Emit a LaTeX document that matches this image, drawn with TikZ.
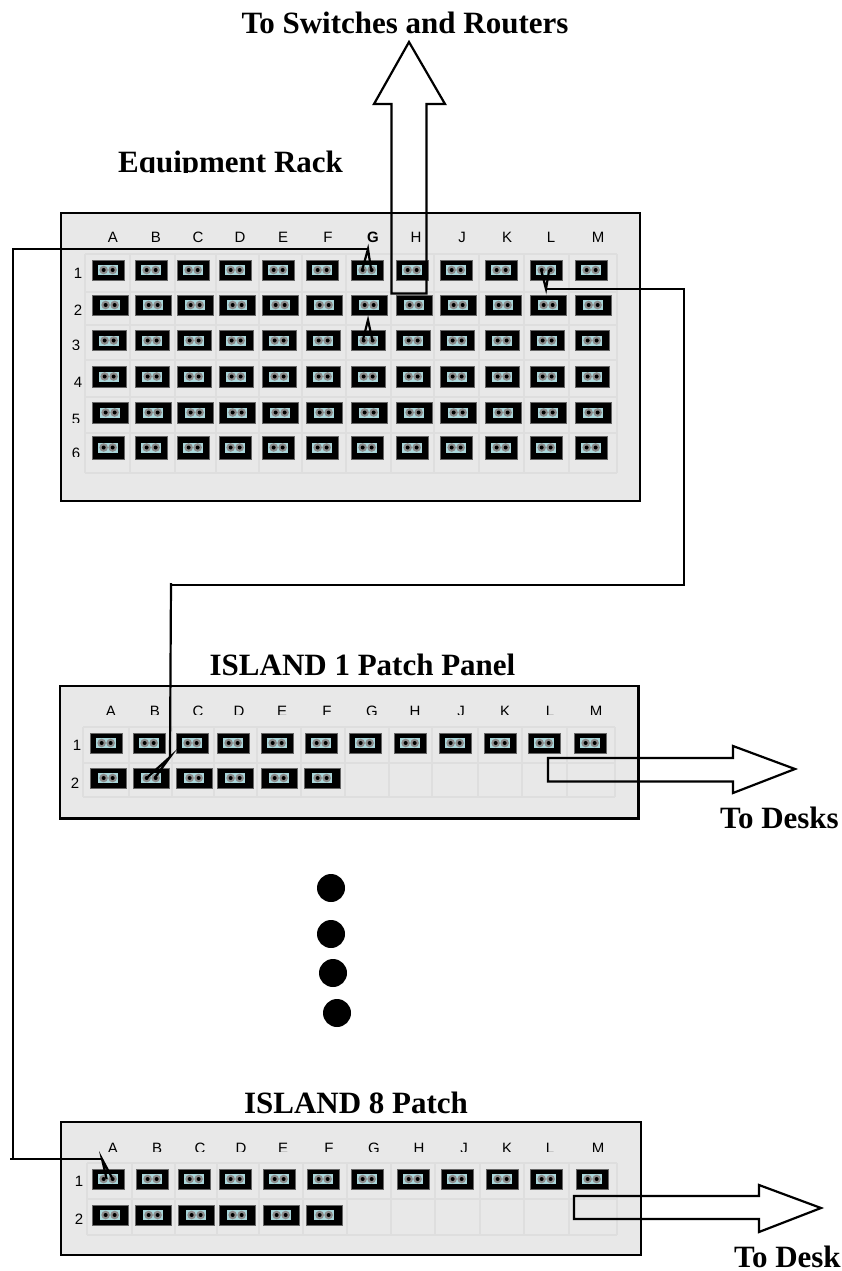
\documentclass[tikz,border=0pt]{standalone}
\usepackage{fontspec}
\setmainfont{Liberation Serif}
\setsansfont{Liberation Sans}
\begin{document}
\begin{tikzpicture}[
    x=1pt, y=-1pt,
    panel/.style={draw=black, line width=2.2pt, fill=panelgray},
    cell/.style={draw=cellgray, line width=1.5pt},
    jack/.style={rectangle, fill=black, draw=black!60, line width=0.3pt, anchor=west, inner sep=0pt,
        minimum height=20pt, minimum width=#1,
        path picture={
            \fill[portblue] ([xshift=-10pt,yshift=-5pt]path picture bounding box.center) rectangle ([xshift=10pt,yshift=5pt]path picture bounding box.center);
            \foreach \hole in {-4.5,4.5} {
                \fill[black!45] ([xshift=\hole pt]path picture bounding box.center) circle (4.3pt);
                \fill[black] ([xshift=\hole pt]path picture bounding box.center) circle (2pt);
            }
        }},
    jack/.default=32pt,
    collabel/.style={font=\sffamily\fontsize{15}{15}\selectfont, inner sep=0pt},
    heading/.style={font=\bfseries\fontsize{31}{31}\selectfont, inner sep=0pt, anchor=base},
    cable/.style={draw=black, line width=2.2pt, line join=miter},
    bigarrow/.style={draw=black, line width=2.2pt, line join=miter},
    bullet/.style={circle, fill=black, minimum size=28pt, inner sep=0pt}
]
    \definecolor{panelgray}{HTML}{E8E8E8}
    \definecolor{cellgray}{HTML}{DEDEDE}
    \definecolor{portblue}{HTML}{A9D6DA}
    \useasboundingbox (0,0) rectangle (842,1271);
    \fill[white] (0,0) rectangle (842,1271);

    % titles
    \node[heading] (titleswitch) at (405,33.5) {To Switches and Routers};
    \begin{scope}
        \clip (100,140) rectangle (360,172.5);
        \node[heading] (titlerack) at (230.5,172) {Equipment Rack};
    \end{scope}
    \node[heading] (titleone) at (362.5,675.5) {ISLAND 1 Patch Panel};
    \node[heading] (titleeight) at (356,1113) {ISLAND 8 Patch};
    \node[heading, anchor=base west] (desksone) at (720,828) {To Desks};
    \node[heading, anchor=base west] (deskseight) at (734,1267) {To Desk};

    % panels
    \draw[panel] (61,213) rectangle (640,501);
    \draw[panel] (60,686) rectangle (638.5,818.5);
    \draw[panel] (61,1122) rectangle (641,1255);

    % rack grid
    \foreach \xpos in {85,130,175,216,259,302,346,391,434,479,524,569,617}
        \draw[cell] (\xpos,254) -- (\xpos,473);
    \foreach \ypos in {254,292,325,360,397,433,473}
        \draw[cell] (85,\ypos) -- (617,\ypos);

    % island grids
    \foreach \xpos in {83,129,172,214,257,301,345,389,432,478,522,567,615}
        \draw[cell] (\xpos,727) -- (\xpos,797);
    \foreach \ypos in {727,763,797}
        \draw[cell] (83,\ypos) -- (615,\ypos);
    \foreach \xpos in {87,132,175,217,259,303,347,391,435,480,524,569,617}
        \draw[cell] (\xpos,1163) -- (\xpos,1235);
    \foreach \ypos in {1163,1199,1235}
        \draw[cell] (87,\ypos) -- (617,\ypos);

    % rack labels and jacks
    \foreach \col/\xpos in {A/113,B/156,C/198,D/240,E/283,F/328,H/416,J/462,K/507,L/551,M/598}
        \node[collabel] (racklabel\col) at (\xpos,237) {\col};
    \node[collabel, font=\sffamily\bfseries\fontsize{15}{15}\selectfont] (racklabelG) at (373,237) {G};
    \foreach \row/\ypos in {1/273,2/310,4/382} 
        \node[collabel] (racknum\row) at (78,\ypos) {\row};
    \begin{scope}
        \clip (60,335) rectangle (90,349) (60,405) rectangle (84,422) (60,440) rectangle (84,456);
        \foreach \row/\ypos in {3/345,5/419,6/453}
            \node[collabel] (racknum\row) at (76,\ypos) {\row};
    \end{scope}
    \foreach \col/\xpos in {A/92,B/135,C/177,D/219,E/262,F/306,G/351,H/396,J/440,K/485,L/530,M/575}
        \foreach \row/\ypos/\wid/\hgt in {1/270/32/20,2/305/36/20,3/340.5/34/20,4/376.5/34/21,5/412.5/36/21,6/447.5/32/23}
            \node[jack=\wid pt, minimum height=\hgt pt] (rack\col\row) at (\xpos,\ypos) {};

    % island 1
    \begin{scope}
        \clip (70,695) rectangle (630,714.5);
        \foreach \col/\xpos in {A/111,B/155,C/198,D/239,E/282,F/327,G/372,H/415,J/461,K/505,L/550,M/596}
            \node[collabel] (onelabel\col) at (\xpos,711) {\col};
    \end{scope}
    \node[collabel] (onenum1) at (77,745) {1};
    \node[collabel] (onenum2) at (75,783) {2};
    \foreach \col/\xpos in {A/90,B/133,C/176,D/217,E/261,F/305,G/349,H/394,J/439,K/484,L/528,M/574}
        \node[jack] (one\col1) at (\xpos,743) {};
    \foreach \col/\xpos in {A/90,B/133,C/176,D/217,E/261,F/304}
        \node[jack=36pt] (one\col2) at (\xpos,778) {};

    % island 8
    \begin{scope}
        \clip (70,1130) rectangle (630,1151.5);
        \foreach \col/\xpos in {A/113,B/157,C/200,D/241,E/283,F/329,G/374,H/419,J/464,K/507,L/550,M/598}
            \node[collabel] (eightlabel\col) at (\xpos,1148) {\col};
    \end{scope}
    \node[collabel] (eightnum1) at (79,1181) {1};
    \node[collabel] (eightnum2) at (79,1219) {2};
    \foreach \col/\xpos in {A/92,B/136,C/178,D/219,E/263,F/307,G/351,H/397,J/441,K/486,L/530,M/576}
        \node[jack] (eight\col1) at (\xpos,1179) {};
    \foreach \col/\xpos in {A/92,B/135,C/178,D/219,E/263,F/306}
        \node[jack=36pt] (eight\col2) at (\xpos,1215) {};

    % cables
    \coordinate (leftapex) at (368,249);
    \coordinate (leftcorner) at (13,249);
    \coordinate (leftturn) at (13,1159);
    \coordinate (leftstub) at (10,1159);
    \coordinate (eightapex) at (102,1159);
    \draw[cable] ([xshift=-5pt]rackG1.center) -- (leftapex) -- ([xshift=4pt]rackG1.center);
    \draw[cable] (leftapex) -- (leftcorner) -- (leftturn);
    \draw[cable] (leftstub) -- (eightapex);
    \draw[cable] ([xshift=-1.5pt]eightA1.center) -- (eightapex) -- ([xshift=4.5pt]eightA1.center);

    \coordinate (midapex) at (368,320);
    \draw[cable] ([xshift=-5pt,yshift=1.5pt]rackG3.center) -- (midapex) -- ([xshift=4pt,yshift=1.5pt]rackG3.center);

    \coordinate (rightapex) at (546,289);
    \coordinate (rightcorner) at (684,289);
    \coordinate (rightturn) at (684,585);
    \coordinate (backturn) at (171,585);
    \coordinate (backtop) at (171,583);
    \coordinate (oneapex) at (170,757);
    \draw[cable] ([xshift=-5pt]rackL1.center) -- (rightapex) -- ([xshift=3pt]rackL1.center);
    \draw[cable] (rightapex) -- (rightcorner) -- (rightturn) -- (backturn);
    \draw[cable] (backtop) -- (oneapex);
    \draw[cable] ([xshift=-4.5pt]oneB2.center) -- (oneapex) -- ([xshift=3.5pt]oneB2.center);

    % arrows
    \draw[bigarrow] (409,42) -- (445,104) -- (426.5,104) -- (426.5,293.5) -- (391.5,293.5) -- (391.5,104) -- (374,104) -- cycle;
    \draw[bigarrow] (795,769) -- (733,746) -- (733,758) -- (548,758) -- (548,781.5) -- (733,781.5) -- (733,793) -- cycle;
    \draw[bigarrow] (821,1208) -- (759,1185) -- (759,1196) -- (574,1196) -- (574,1219) -- (759,1219) -- (759,1232) -- cycle;

    % dots
    \node[bullet] (dotone) at (331,888) {};
    \node[bullet] (dottwo) at (331,934) {};
    \node[bullet] (dotthree) at (333,973) {};
    \node[bullet] (dotfour) at (337,1013) {};
\end{tikzpicture}
\end{document}
